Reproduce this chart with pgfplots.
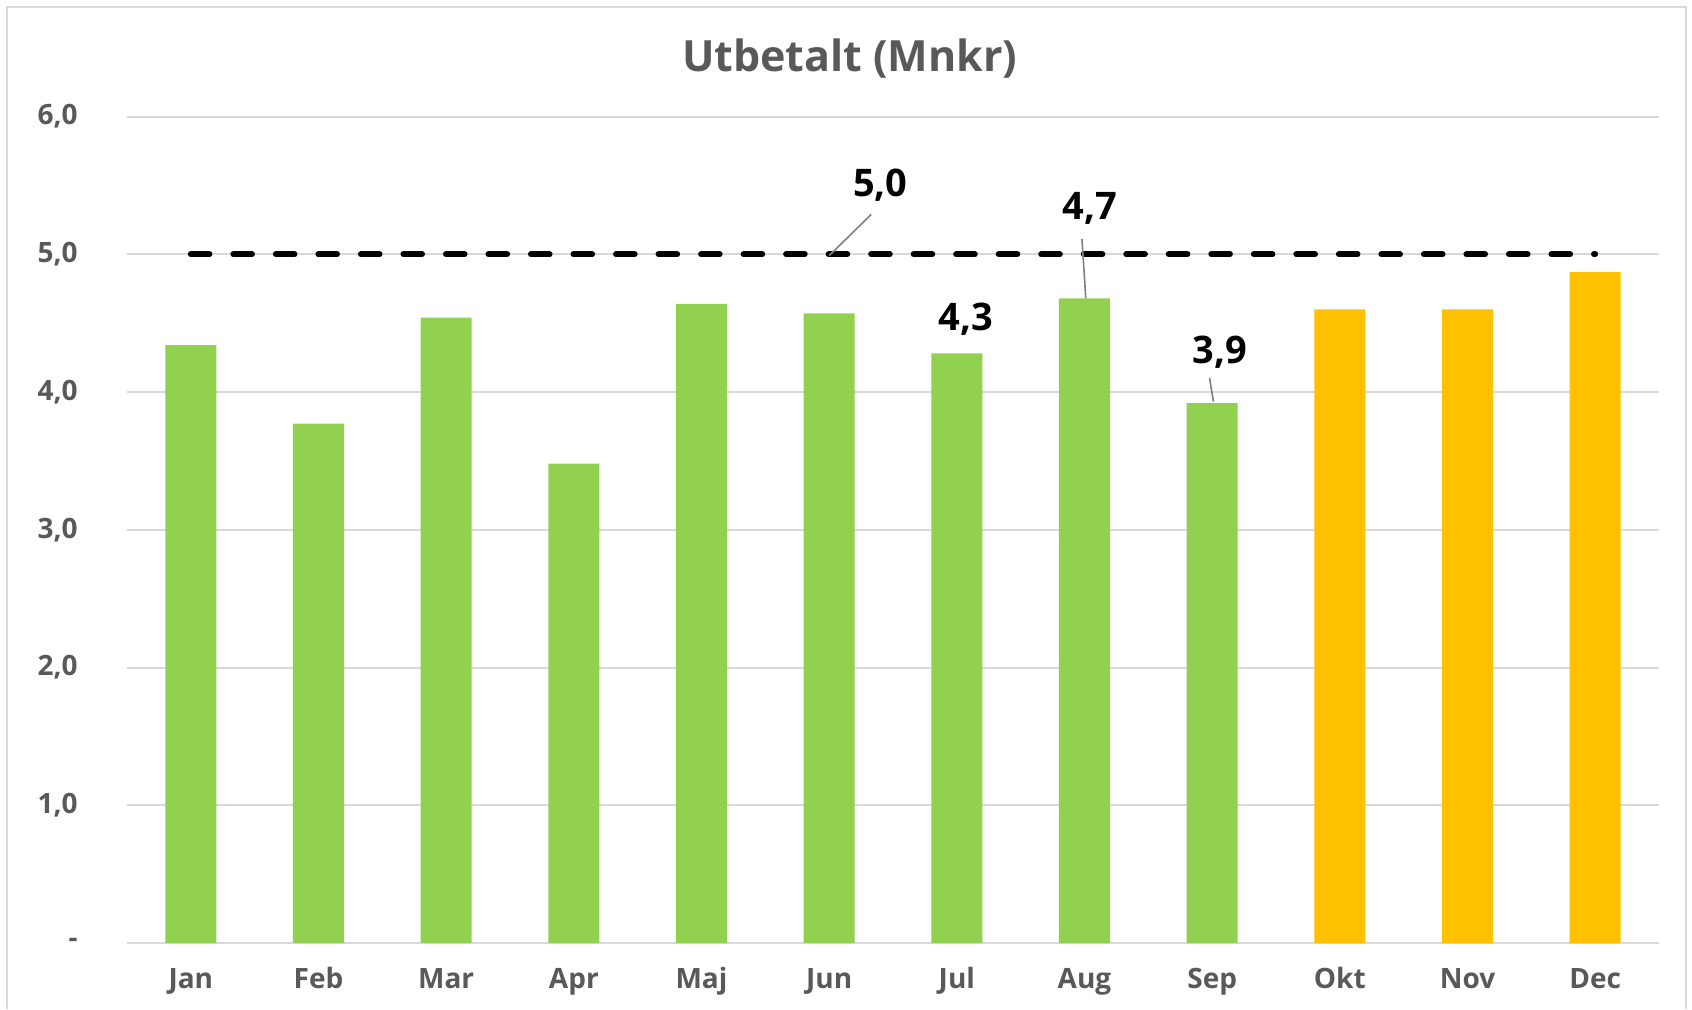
\documentclass[border=0pt]{standalone}
\usepackage{fontspec}
\setmainfont{Open Sans}
\usepackage{pgfplots}
\pgfplotsset{compat=1.18}
\definecolor{BarGreen}{HTML}{92D050}
\definecolor{BarOrange}{HTML}{FFC000}
\definecolor{TxtGray}{HTML}{595959}
\definecolor{GridGray}{HTML}{D9D9D9}
\definecolor{LeadGray}{HTML}{7F7F7F}

\begin{document}
\begin{tikzpicture}
\path[use as bounding box] (0,0) rectangle (846pt,504.5pt);
\draw[GridGray, line width=1.2pt] (3.5pt,0) -- (3.5pt,501pt) -- (843pt,501pt) -- (843pt,0);
\node[anchor=base, inner sep=0pt, text=TxtGray, font=\bfseries\fontsize{21.5}{26}\selectfont]
  at (424.9pt,468.5pt) {Utbetalt (Mnkr)};
\begin{axis}[
    at={(63.5pt,33pt)}, anchor=south west,
    scale only axis,
    width=766pt, height=413.25pt,
    xmin=-0.5, xmax=11.5,
    ymin=0, ymax=6,
    axis line style={draw=none},
    major tick length=0pt,
    xtick={0,...,11},
    xticklabels={Jan,Feb,Mar,Apr,Maj,Jun,Jul,Aug,Sep,Okt,Nov,Dec},
    ytick={0,...,6},
    yticklabels={-,{1,0},{2,0},{3,0},{4,0},{5,0},{6,0}},
    ymajorgrids,
    grid style={draw=GridGray, line width=1pt},
    ticklabel style={text=TxtGray, font=\bfseries\fontsize{14}{17}\selectfont},
    xticklabel style={anchor=base, yshift=-22.5pt},
    yticklabel style={anchor=east, inner sep=0pt, xshift=-24.5pt},
    clip=false,
]
% Utbetalt per manad (Mnkr)
\addplot[ybar, bar width=0.4, bar shift=0pt, fill=BarGreen, draw=none] coordinates {
    (0,4.34) (1,3.77) (2,4.54) (3,3.48) (4,4.64) (5,4.57)
    (6,4.28) (7,4.68) (8,3.92)
};
\addplot[ybar, bar width=0.4, bar shift=0pt, fill=BarOrange, draw=none] coordinates {
    (9,4.60) (10,4.60) (11,4.87)
};
% budget line
\addplot[black, line width=3pt, line cap=round, dash pattern=on 9.3pt off 11.96pt] coordinates {
    (0,5) (1,5) (2,5) (3,5) (4,5) (5,5) (6,5) (7,5) (8,5) (9,5) (10,5) (11,5)
};
% data labels
\draw[LeadGray, line width=0.8pt] (axis cs:5.33,5.29) -- (axis cs:5.0,4.99);
\draw[LeadGray, line width=0.8pt] (axis cs:6.98,5.11) -- (axis cs:7.01,4.68);
\draw[LeadGray, line width=0.8pt] (axis cs:7.98,4.10) -- (axis cs:8.01,3.93);
\tikzset{dl/.style={font=\bfseries\fontsize{19}{22}\selectfont, text=black, inner sep=0pt}}
\node[dl] at (axis cs:5.40,5.50) {5,0};
\node[dl] at (axis cs:7.04,5.33) {4,7};
\node[dl] at (axis cs:6.07,4.53) {4,3};
\node[dl] at (axis cs:8.06,4.29) {3,9};
\end{axis}
\end{tikzpicture}
\end{document}
